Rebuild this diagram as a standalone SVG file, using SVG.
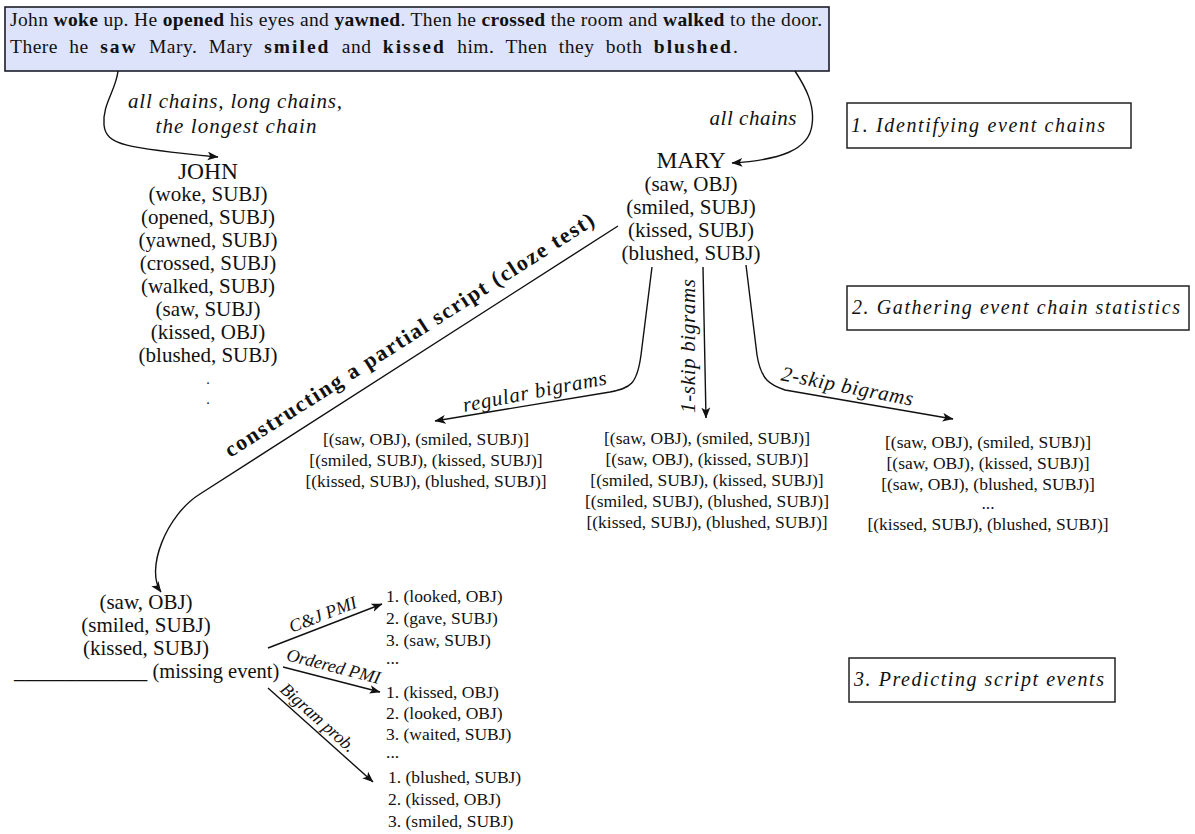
<svg xmlns="http://www.w3.org/2000/svg" width="1195" height="834" viewBox="0 0 1195 834">
<defs>
<style>
text{font-family:"Liberation Serif","Times New Roman",serif;fill:#111;}
.n{font-size:21px;text-anchor:middle;}
.big{font-size:23.5px;text-anchor:middle;}
.l{font-size:17.5px;text-anchor:middle;}
.r{font-size:17.5px;}
.it{font-style:italic;font-size:20px;}
.lab{font-style:italic;font-size:21px;text-anchor:middle;}
.sm{font-style:italic;font-size:18px;text-anchor:middle;}
.box{fill:#fff;stroke:#222;stroke-width:1.5;}
.c{fill:none;stroke:#111;stroke-width:1.4;marker-end:url(#ah);}
.b{font-weight:bold;}
.bw{font-weight:bold;letter-spacing:2px;}
.dot{font-size:14px;text-anchor:middle;}
</style>
<marker id="ah" viewBox="0 0 10 8" refX="9.5" refY="4" markerWidth="11" markerHeight="9" markerUnits="userSpaceOnUse" orient="auto">
<path d="M0,0 L10,4 L0,8 L2.5,4 Z" fill="#111"/>
</marker>
</defs>
<rect width="1195" height="834" fill="#fff"/>

<g id="story">
<rect x="5" y="7" width="824" height="64" fill="#dde3fa" stroke="#1c1c2a" stroke-width="1.6"/>
<text x="10" y="26" font-size="19.5" textLength="812">John <tspan class="b">woke</tspan> up. He <tspan class="b">opened</tspan> his eyes and <tspan class="b">yawned</tspan>. Then he <tspan class="b">crossed</tspan> the room and <tspan class="b">walked</tspan> to the door.</text>
<text x="10" y="53" font-size="19.5" word-spacing="6" letter-spacing="0.5">There he <tspan class="bw">saw</tspan> Mary. Mary <tspan class="bw">smiled</tspan> and <tspan class="bw">kissed</tspan> him. Then they both <tspan class="bw">blushed</tspan>.</text>
</g>

<g id="connectors">
<path class="c" d="M118,71 C116,90 102,105 104,125 C106,145 125,148 218,157"/>
<path class="c" d="M795,71 C806,88 815,105 812,125 C809,150 780,160 732,163"/>
<path class="c" d="M652,267 L641,355 C637,385 630,388 610,392 L435,421"/>
<path class="c" d="M703,267 L706,418"/>
<path class="c" d="M746,265 L757,355 C761,380 770,385 785,390 L953,419"/>
<path class="c" d="M618,226 L200,494 C166,515 145,570 161,592"/>
<path class="c" d="M268,648 L382,604"/>
<path class="c" d="M283,667 L380,692"/>
<path class="c" d="M268,688 L373,782"/>
</g>

<g id="edge-labels">
<text class="lab" x="235" y="108" textLength="214">all chains, long chains,</text>
<text class="lab" x="236" y="133" textLength="161">the longest chain</text>
<text class="lab" x="753" y="125" textLength="87">all chains</text>
<text class="lab" transform="translate(536,398) rotate(-11)" textLength="146">regular bigrams</text>
<text class="lab" transform="translate(695,346) rotate(-90)" textLength="134">1-skip bigrams</text>
<text class="lab" transform="translate(846,393) rotate(11)" textLength="134">2-skip bigrams</text>
<text class="b" font-size="22" text-anchor="middle" textLength="434" transform="translate(413,341) rotate(-32.6)">constructing a partial script (cloze test)</text>
<text class="sm" transform="translate(325,620) rotate(-21)" textLength="71">C&amp;J PMI</text>
<text class="sm" transform="translate(332,672) rotate(14.5)" textLength="96">Ordered PMI</text>
<text class="sm" transform="translate(314,722) rotate(41.8)" textLength="94">Bigram prob.</text>
</g>

<g id="john">
<text class="big" x="208" y="179">JOHN</text>
<text class="n" x="208" y="201">(woke, SUBJ)</text>
<text class="n" x="208" y="224">(opened, SUBJ)</text>
<text class="n" x="208" y="247">(yawned, SUBJ)</text>
<text class="n" x="208" y="270">(crossed, SUBJ)</text>
<text class="n" x="208" y="293">(walked, SUBJ)</text>
<text class="n" x="208" y="316">(saw, SUBJ)</text>
<text class="n" x="208" y="339">(kissed, OBJ)</text>
<text class="n" x="208" y="362">(blushed, SUBJ)</text>
<text class="dot" x="208" y="384">.</text>
<text class="dot" x="208" y="404">.</text>
</g>

<g id="mary">
<text class="big" x="691" y="168">MARY</text>
<text class="n" x="691" y="191">(saw, OBJ)</text>
<text class="n" x="691" y="214">(smiled, SUBJ)</text>
<text class="n" x="691" y="237">(kissed, SUBJ)</text>
<text class="n" x="691" y="260">(blushed, SUBJ)</text>
</g>

<g id="regular-bigrams">
<text class="l" x="426" y="445">[(saw, OBJ), (smiled, SUBJ)]</text>
<text class="l" x="426" y="466">[(smiled, SUBJ), (kissed, SUBJ)]</text>
<text class="l" x="426" y="487">[(kissed, SUBJ), (blushed, SUBJ)]</text>
</g>

<g id="one-skip-bigrams">
<text class="l" x="707" y="444">[(saw, OBJ), (smiled, SUBJ)]</text>
<text class="l" x="707" y="465">[(saw, OBJ), (kissed, SUBJ)]</text>
<text class="l" x="707" y="486">[(smiled, SUBJ), (kissed, SUBJ)]</text>
<text class="l" x="707" y="507">[(smiled, SUBJ), (blushed, SUBJ)]</text>
<text class="l" x="707" y="528">[(kissed, SUBJ), (blushed, SUBJ)]</text>
</g>

<g id="two-skip-bigrams">
<text class="l" x="988" y="448">[(saw, OBJ), (smiled, SUBJ)]</text>
<text class="l" x="988" y="469">[(saw, OBJ), (kissed, SUBJ)]</text>
<text class="l" x="988" y="490">[(saw, OBJ), (blushed, SUBJ)]</text>
<text class="l" x="988" y="509" font-size="12">...</text>
<text class="l" x="988" y="530">[(kissed, SUBJ), (blushed, SUBJ)]</text>
</g>

<g id="cloze">
<text class="n" x="146" y="609">(saw, OBJ)</text>
<text class="n" x="146" y="632">(smiled, SUBJ)</text>
<text class="n" x="146" y="655">(kissed, SUBJ)</text>
<text font-size="20.5" x="14" y="678">_____________ (missing event)</text>
</g>

<g id="cj-pmi-results">
<text class="r" x="386" y="602">1. (looked, OBJ)</text>
<text class="r" x="386" y="624">2. (gave, SUBJ)</text>
<text class="r" x="386" y="646">3. (saw, SUBJ)</text>
<text class="r" x="386" y="664" font-size="12">...</text>
</g>

<g id="ordered-pmi-results">
<text class="r" x="386" y="698">1. (kissed, OBJ)</text>
<text class="r" x="386" y="719">2. (looked, OBJ)</text>
<text class="r" x="386" y="740">3. (waited, SUBJ)</text>
<text class="r" x="386" y="758" font-size="12">...</text>
</g>

<g id="bigram-prob-results">
<text class="r" x="388" y="783">1. (blushed, SUBJ)</text>
<text class="r" x="388" y="805">2. (kissed, OBJ)</text>
<text class="r" x="388" y="827">3. (smiled, SUBJ)</text>
</g>

<g id="step1">
<rect class="box" x="847" y="103" width="284" height="45"/>
<text class="it" x="851" y="132" textLength="254">1. Identifying event chains</text>
</g>
<g id="step2">
<rect class="box" x="847" y="286" width="342" height="44"/>
<text class="it" x="852" y="314" textLength="328">2. Gathering event chain statistics</text>
</g>
<g id="step3">
<rect class="box" x="849" y="658" width="266" height="44"/>
<text class="it" x="854" y="686" textLength="250">3. Predicting script events</text>
</g>
</svg>
